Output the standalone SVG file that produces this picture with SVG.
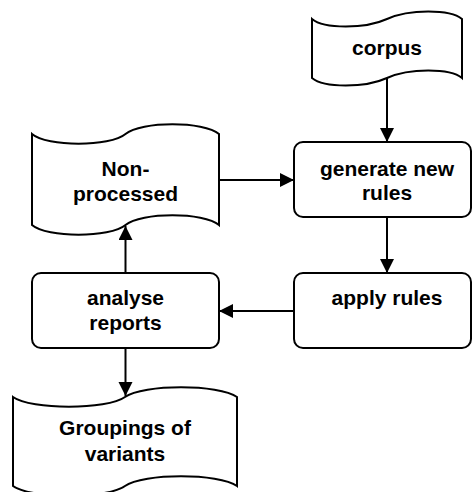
<svg xmlns="http://www.w3.org/2000/svg" width="473" height="492" viewBox="0 0 473 492">
<style>
.shape{fill:#fff;stroke:#000;stroke-width:2}
.lbl{font-family:"Liberation Sans",Arial,sans-serif;font-weight:bold;font-size:21px;fill:#000;text-anchor:middle}
.conn line{stroke:#000;stroke-width:2}
</style>
<defs>
<marker id="arr" markerUnits="userSpaceOnUse" markerWidth="15" markerHeight="15" refX="14" refY="7" orient="auto">
<path d="M0,0 L14,7 L0,14 Z" fill="#000"/>
</marker>
</defs>
<g id="corpus">
<path class="shape" d="M312,19 C324,29 365,29 387,19 C409,9 450,9 462,19 L462,78 C450,68 409,68 387,78 C365,88 324,88 312,78 Z"/>
<text class="lbl" x="387" y="55">corpus</text>
</g>
<g id="nonprocessed">
<path class="shape" d="M32,134 C47,147 110,147 125.5,134 C141,121 204,121 219,134 L219,225 C204,212 141,212 125.5,225 C110,238 47,238 32,225 Z"/>
<text class="lbl" x="125.5" y="176">Non-</text>
<text class="lbl" x="125.5" y="201">processed</text>
</g>
<g id="generate">
<rect class="shape" x="294" y="142" width="177" height="75" rx="9"/>
<text class="lbl" x="387" y="176">generate new</text>
<text class="lbl" x="387" y="200">rules</text>
</g>
<g id="apply">
<rect class="shape" x="294" y="273" width="177" height="75" rx="9"/>
<text class="lbl" x="387" y="305">apply rules</text>
</g>
<g id="analyse">
<rect class="shape" x="32" y="273" width="187" height="75" rx="9"/>
<text class="lbl" x="125.5" y="305">analyse</text>
<text class="lbl" x="125.5" y="330">reports</text>
</g>
<g id="groupings">
<path class="shape" d="M13,397 C31,410 107,410 125,397 C143,384 219,384 237,397 L237,486 C219,473 143,473 125,486 C107,499 31,499 13,486 Z"/>
<text class="lbl" x="125" y="435">Groupings of</text>
<text class="lbl" x="125" y="461">variants</text>
</g>
<g id="connectors" class="conn">
<line x1="387" y1="78" x2="387" y2="142" marker-end="url(#arr)"/>
<line x1="219" y1="180" x2="294" y2="180" marker-end="url(#arr)"/>
<line x1="387" y1="217" x2="387" y2="273" marker-end="url(#arr)"/>
<line x1="294" y1="311" x2="219" y2="311" marker-end="url(#arr)"/>
<line x1="125.5" y1="273" x2="125.5" y2="226" marker-end="url(#arr)"/>
<line x1="125.5" y1="348" x2="125.5" y2="396" marker-end="url(#arr)"/>
</g>
</svg>
